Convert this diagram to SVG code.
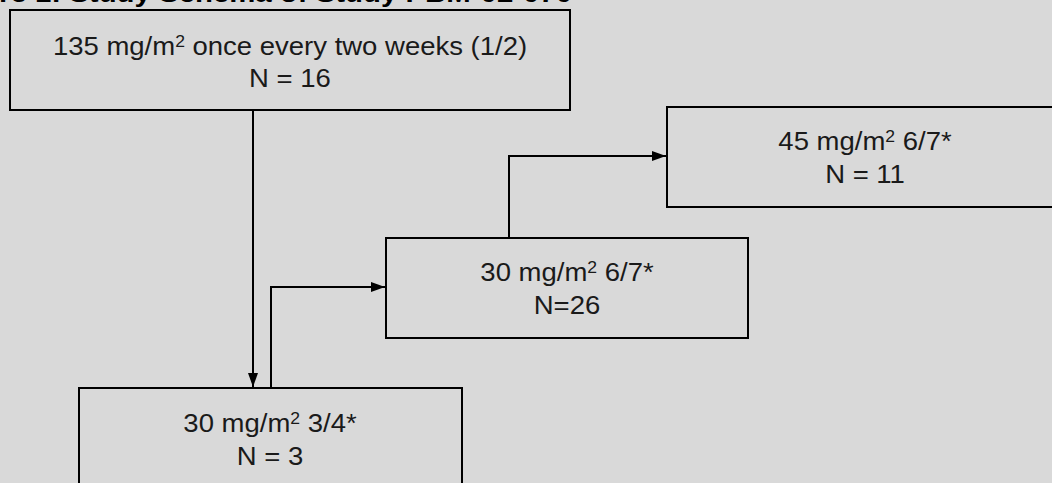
<svg xmlns="http://www.w3.org/2000/svg" width="1052" height="483" viewBox="0 0 1052 483">
<style>
.bg{fill:#d9d9d9}
.box{fill:#d9d9d9;stroke:#000;stroke-width:2}
.t{font-family:"Liberation Sans",Arial,sans-serif;font-size:25px;fill:#1a1a1a;text-anchor:middle}
.title{font-family:"Liberation Sans",Arial,sans-serif;font-size:26px;font-weight:bold;fill:#000;text-anchor:end}
.sup{font-size:16px}
.c{fill:none;stroke:#000;stroke-width:2}
</style>
<defs>
<marker id="arr" viewBox="0 0 14 10" refX="14" refY="5" markerWidth="14" markerHeight="10" markerUnits="userSpaceOnUse" orient="auto">
<path d="M0,0 L14,5 L0,10 Z" fill="#000"/>
</marker>
</defs>
<rect class="bg" x="0" y="0" width="1052" height="483"/>
<text class="title" transform="translate(572,2) scale(1.13,1)" x="0" y="0">Figure 1: Study Schema of Study PBM-02-070</text>
<g id="connectors">
<path class="c" d="M253,110 L253,387" marker-end="url(#arr)"/>
<path class="c" d="M271,388 L271,287 L385,287" marker-end="url(#arr)"/>
<path class="c" d="M509,238 L509,156 L666,156" marker-end="url(#arr)"/>
</g>
<g id="n1">
<rect class="box" x="10" y="10" width="560" height="100"/>
<text class="t" transform="translate(290,55) scale(1.1,1)">135 mg/m<tspan class="sup" dy="-8">2</tspan><tspan dy="8"> once every two weeks (1/2)</tspan></text>
<text class="t" transform="translate(290,87) scale(1.1,1)">N = 16</text>
</g>
<g id="n2">
<rect class="box" x="667" y="107" width="400" height="100"/>
<text class="t" transform="translate(865,150) scale(1.1,1)">45 mg/m<tspan class="sup" dy="-8">2</tspan><tspan dy="8"> 6/7*</tspan></text>
<text class="t" transform="translate(865,183) scale(1.1,1)">N = 11</text>
</g>
<g id="n3">
<rect class="box" x="386" y="238" width="362" height="100"/>
<text class="t" transform="translate(567,281) scale(1.1,1)">30 mg/m<tspan class="sup" dy="-8">2</tspan><tspan dy="8"> 6/7*</tspan></text>
<text class="t" transform="translate(567,314) scale(1.1,1)">N=26</text>
</g>
<g id="n4">
<rect class="box" x="79" y="388" width="383" height="110"/>
<text class="t" transform="translate(270,432) scale(1.1,1)">30 mg/m<tspan class="sup" dy="-8">2</tspan><tspan dy="8"> 3/4*</tspan></text>
<text class="t" transform="translate(270,465) scale(1.1,1)">N = 3</text>
</g>
</svg>
